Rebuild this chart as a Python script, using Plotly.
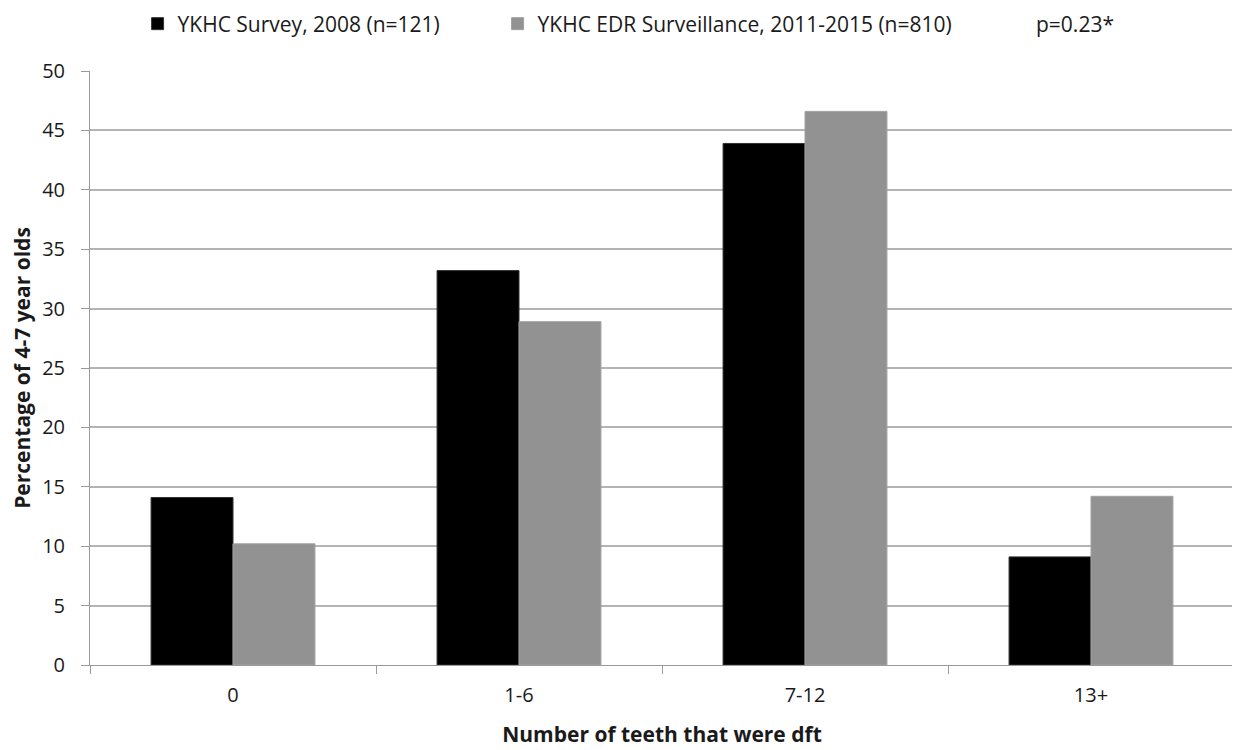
import plotly.graph_objects as go

categories = ["0", "1-6", "7-12", "13+"]
survey_2008 = [14.1, 33.2, 43.9, 9.1]
edr_2011_2015 = [10.2, 28.9, 46.6, 14.2]
series_names = ["YKHC Survey, 2008 (n=121)", "YKHC EDR Surveillance, 2011-2015 (n=810)"]
y_ticks = [0, 5, 10, 15, 20, 25, 30, 35, 40, 45, 50]
p_label = "p=0.23*"

FONT = "Open Sans"
TXT = "#1a1a1a"
LEG_Y = 16  # px from top of the figure

fig = go.Figure()
fig.add_trace(go.Bar(x=categories, y=survey_2008, name=series_names[0], legend="legend",
                     showlegend=True,
                     marker=dict(color="#000000", line=dict(color="#333333", width=1))))
fig.add_trace(go.Bar(x=categories, y=edr_2011_2015, name=series_names[1], legend="legend2",
                     showlegend=True,
                     marker=dict(color="#929292", line=dict(color="#a0a0a0", width=1))))

leg_common = dict(orientation="h", yref="container", y=1 - LEG_Y / 750, yanchor="middle",
                  xanchor="left", font=dict(family=FONT, size=21, color=TXT),
                  itemwidth=30, bgcolor="rgba(0,0,0,0)")

fig.update_layout(
    width=1240, height=750,
    margin=dict(l=82, r=14, t=63, b=93, autoexpand=False),
    paper_bgcolor="white", plot_bgcolor="white",
    showlegend=True,
    barmode="group", bargap=0.427, bargroupgap=0,
    font=dict(family=FONT, size=20, color=TXT),
    legend=dict(x=0.0416, **leg_common),
    legend2=dict(x=0.3563, **leg_common),
    xaxis=dict(
        title=dict(text="<b>Number of teeth that were dft</b>", font=dict(family=FONT, size=21), standoff=20),
        showline=True, linecolor="#9a9a9a", linewidth=1,
        ticks="outside", tickson="boundaries", ticklen=8, tickcolor="#9a9a9a",
        tickfont=dict(family=FONT, size=20), ticklabelstandoff=12,
        showgrid=False,
    ),
    yaxis=dict(
        title=dict(text="<b>Percentage of 4-7 year olds</b>", font=dict(family=FONT, size=21), standoff=6),
        range=[0, 50], tickvals=y_ticks,
        showline=True, linecolor="#9a9a9a", linewidth=1,
        ticks="outside", ticklen=8, tickcolor="#9a9a9a",
        showgrid=True, gridcolor="#b4b4b4", gridwidth=1.5,
        tickfont=dict(family=FONT, size=20), ticklabelstandoff=12,
        zeroline=False,
    ),
)

fig.add_annotation(text=p_label, xref="paper", yref="paper", x=0.8252, y=1 + (63 - LEG_Y) / 594,
                   xanchor="left", yanchor="middle", showarrow=False,
                   font=dict(family=FONT, size=21, color=TXT))

fig.write_html("out.html")
